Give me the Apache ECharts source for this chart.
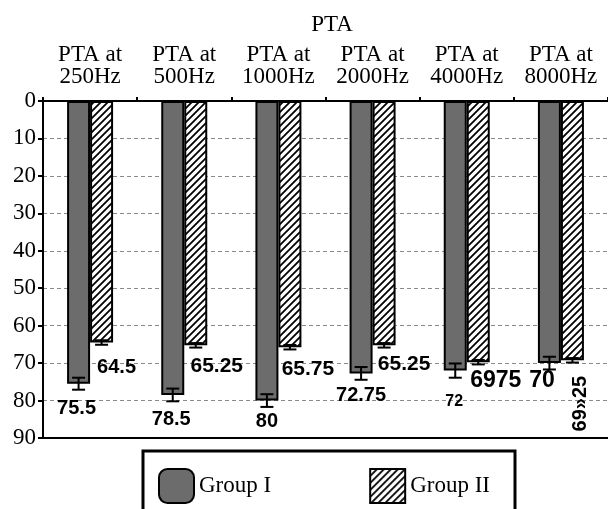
<!DOCTYPE html>
<html>
<head>
<meta charset="utf-8">
<script src="https://cdn.jsdelivr.net/npm/echarts@6/dist/echarts.min.js"></script>
<style>
html,body{margin:0;padding:0;background:#fff;}
#chart{width:608px;height:509px;}
</style>
</head>
<body>
<div id="chart"></div>
<script>
// ---- data ----
const categories = ['PTA at\n250Hz', 'PTA at\n500Hz', 'PTA at\n1000Hz', 'PTA at\n2000Hz', 'PTA at\n4000Hz', 'PTA at\n8000Hz'];
const seriesNames = ['Group I', 'Group II'];
const group1 = [75.5, 78.5, 80, 72.75, 72, 70];
const group2 = [64.5, 65.25, 65.75, 65.25, 69.75, 69.25];
const err1 = [1.6, 1.7, 1.7, 1.7, 1.9, 1.7];
const err2 = [0.6, 0.6, 0.6, 0.6, 0.6, 0.6];
const labels1 = ['75.5', '78.5', '80', '72.75', '72', '70'];
const labels2 = ['64.5', '65.25', '65.75', '65.25', '6975', '69»25'];
const yTicks = [0, 10, 20, 30, 40, 50, 60, 70, 80, 90];

// ---- layout / style (not data) ----
const BAR_W = 23;
const labelLayout1 = [
  {offset: [-2, 14.5], fontSize: 20},
  {offset: [-1.5, 14.5], fontSize: 20},
  {offset: [0, 10.5], fontSize: 20},
  {offset: [0, 12.5], fontSize: 20},
  {offset: [-1, 23], fontSize: 16},
  {offset: [-7.5, 6], fontSize: 23}
];
const labelLayout2 = [
  {offset: [15, 14.5], fontSize: 20},
  {offset: [21, 10], fontSize: 21},
  {offset: [18, 11.5], fontSize: 21},
  {offset: [20, 8], fontSize: 21},
  {offset: [17.5, 6.5], fontSize: 23},
  {offset: [-15.5, 8], fontSize: 20, rotate: 90, align: 'right', verticalAlign: 'middle'}
];

function makeHatch() {
  const c = document.createElement('canvas');
  const s = 7;
  c.width = s; c.height = s;
  const ctx = c.getContext('2d');
  ctx.fillStyle = '#fff';
  ctx.fillRect(0, 0, s, s);
  ctx.strokeStyle = '#000';
  ctx.lineWidth = 1.8;
  ctx.beginPath();
  ctx.moveTo(0, s); ctx.lineTo(s, 0);
  ctx.moveTo(-2, 2); ctx.lineTo(2, -2);
  ctx.moveTo(s - 2, s + 2); ctx.lineTo(s + 2, s - 2);
  ctx.stroke();
  return c;
}
const hatch = {image: makeHatch(), repeat: 'repeat'};
const darkStyle = {color: '#6c6c6c', borderColor: '#000', borderWidth: 2};
const hatchStyle = {color: hatch, borderColor: '#000', borderWidth: 2};

const serif = '"Liberation Serif", "Times New Roman", serif';
const sansBold = '"Liberation Sans", Arial, sans-serif';

function barData(vals, labels, layout) {
  return vals.map((v, i) => ({
    value: v,
    label: Object.assign({formatter: labels[i]}, layout[i])
  }));
}

function errData(vals, errs) {
  return vals.map((v, i) => [i, v, errs[i]]);
}

function errRender(shift) {
  return function (params, api) {
    const i = api.value(0), v = api.value(1), e = api.value(2);
    const p1 = api.coord([i, v - e]);
    const p2 = api.coord([i, v + e]);
    const x = p1[0] + shift;
    const cap = 6.5;
    const st = {stroke: '#000', lineWidth: 2};
    return {
      type: 'group',
      children: [
        {type: 'line', shape: {x1: x, y1: p1[1], x2: x, y2: p2[1]}, style: st},
        {type: 'line', shape: {x1: x - cap, y1: p1[1], x2: x + cap, y2: p1[1]}, style: st},
        {type: 'line', shape: {x1: x - cap, y1: p2[1], x2: x + cap, y2: p2[1]}, style: st}
      ]
    };
  };
}

const chart = echarts.init(document.getElementById('chart'), null, {renderer: 'canvas'});
chart.setOption({
  backgroundColor: '#fff',
  animation: false,
  title: {
    text: 'PTA',
    left: 327,
    top: 8,
    textAlign: 'center',
    textStyle: {fontFamily: serif, fontSize: 23, fontWeight: 'normal', color: '#000'}
  },
  grid: {left: 43, top: 101, right: -7, bottom: 71, containLabel: false},
  xAxis: [{
    type: 'category',
    position: 'top',
    data: categories,
    axisLine: {show: true, lineStyle: {color: '#000', width: 2}},
    axisTick: {show: true, inside: false, length: 4, lineStyle: {color: '#000', width: 2}},
    axisLabel: {fontFamily: serif, fontSize: 23, color: '#000', lineHeight: 22, margin: 13, interval: 0},
    splitLine: {show: false}
  }, {
    type: 'category',
    position: 'bottom',
    data: categories,
    axisLine: {show: true, onZero: false, lineStyle: {color: '#000', width: 2}},
    axisTick: {show: false},
    axisLabel: {show: false}
  }],
  yAxis: {
    type: 'value',
    inverse: true,
    min: yTicks[0],
    max: yTicks[yTicks.length - 1],
    interval: 10,
    axisLine: {show: true, lineStyle: {color: '#000', width: 2}},
    axisTick: {show: true, inside: false, length: 5, lineStyle: {color: '#000', width: 2}},
    axisLabel: {fontFamily: serif, fontSize: 23, color: '#000', margin: 7},
    splitLine: {show: true, lineStyle: {color: '#8a8a8a', width: 1, type: [4, 3]}}
  },
  legend: {
    left: 153,
    top: 463,
    z: 10,
    itemWidth: 35,
    itemHeight: 34,
    itemGap: 98,
    selectedMode: false,
    textStyle: {fontFamily: serif, fontSize: 23, color: '#000'},
    data: [
      {name: seriesNames[0], icon: 'roundRect', itemStyle: darkStyle},
      {name: seriesNames[1], icon: 'rect', itemStyle: hatchStyle}
    ]
  },
  graphic: [{
    type: 'rect',
    z: 1,
    shape: {x: 143, y: 451, width: 372, height: 80},
    style: {fill: '#fff', stroke: '#000', lineWidth: 3}
  }],
  series: [{
    name: seriesNames[0],
    type: 'bar',
    xAxisIndex: 0,
    barWidth: BAR_W,
    barGap: '0%',
    itemStyle: darkStyle,
    label: {show: true, position: 'bottom', distance: 0, fontFamily: sansBold, fontWeight: 'bold', color: '#000'},
    data: barData(group1, labels1, labelLayout1)
  }, {
    name: seriesNames[1],
    type: 'bar',
    xAxisIndex: 0,
    barWidth: BAR_W,
    barGap: '0%',
    itemStyle: hatchStyle,
    label: {show: true, position: 'bottom', distance: 0, fontFamily: sansBold, fontWeight: 'bold', color: '#000'},
    data: barData(group2, labels2, labelLayout2)
  }, {
    name: 'err1',
    type: 'custom',
    xAxisIndex: 0,
    z: 5,
    renderItem: errRender(-BAR_W / 2),
    encode: {x: 0, y: 1},
    data: errData(group1, err1)
  }, {
    name: 'err2',
    type: 'custom',
    xAxisIndex: 0,
    z: 5,
    renderItem: errRender(BAR_W / 2),
    encode: {x: 0, y: 1},
    data: errData(group2, err2)
  }]
});
</script>
</body>
</html>
